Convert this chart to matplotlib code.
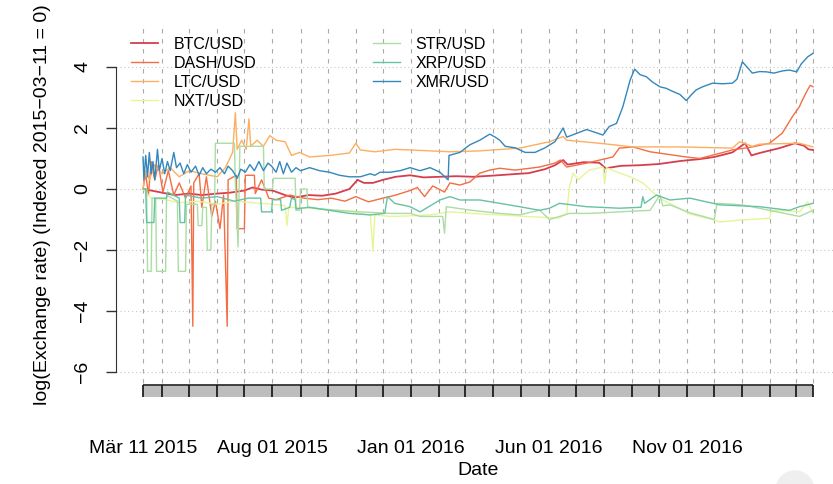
import pandas as pd
import matplotlib.pyplot as plt
import matplotlib.dates as mdates
from matplotlib.patches import Circle

plt.rcParams['font.family'] = ['Liberation Sans', 'DejaVu Sans']

# currency pairs and their colours (Spectral palette)
pairs = ['BTC/USD', 'DASH/USD', 'LTC/USD', 'NXT/USD', 'STR/USD', 'XRP/USD', 'XMR/USD']
colors = ['#D53E4F', '#F46D43', '#FDAE61', '#E6F598', '#ABDDA4', '#66C2A5', '#3288BD']

# log exchange rates, indexed to 2015-03-11
btc_dates = ['2015-03-11', '2015-03-20', '2015-04-01', '2015-04-15', '2015-05-01', '2015-05-15', '2015-06-01',
             '2015-06-15', '2015-07-01', '2015-07-10', '2015-07-20', '2015-08-01', '2015-08-15', '2015-08-25',
             '2015-09-10', '2015-09-25', '2015-10-10', '2015-10-25', '2015-11-03', '2015-11-10', '2015-11-20',
             '2015-12-01', '2015-12-15', '2015-12-31', '2016-01-15', '2016-02-01', '2016-02-20', '2016-03-10',
             '2016-04-01', '2016-04-20', '2016-05-10', '2016-05-28', '2016-06-08', '2016-06-17', '2016-06-22',
             '2016-07-10', '2016-07-27', '2016-08-03', '2016-08-20', '2016-09-10', '2016-10-01', '2016-10-25',
             '2016-11-15', '2016-12-01', '2016-12-21', '2017-01-04', '2017-01-11', '2017-01-20', '2017-02-11',
             '2017-02-28', '2017-03-10', '2017-03-15', '2017-03-20']
btc_values = [0.0, -0.05, -0.12, -0.2, -0.15, -0.2, -0.15,
              -0.12, -0.05, 0.05, -0.02, -0.05, -0.2, -0.28,
              -0.2, -0.22, -0.15, 0.0, 0.3, 0.2, 0.2,
              0.3, 0.4, 0.45, 0.38, 0.4, 0.42, 0.4,
              0.44, 0.48, 0.52, 0.65, 0.78, 0.95, 0.8,
              0.88, 0.86, 0.68, 0.76, 0.78, 0.82, 0.92,
              0.98, 1.05, 1.2, 1.5, 1.1, 1.18, 1.34,
              1.5, 1.42, 1.3, 1.28]

dash_dates = ['2015-03-11', '2015-03-14', '2015-03-17', '2015-03-20', '2015-03-24', '2015-03-28', '2015-04-02',
              '2015-04-08', '2015-04-14', '2015-04-20', '2015-04-27', '2015-05-03', '2015-05-05', '2015-05-06',
              '2015-05-12', '2015-05-15', '2015-05-20', '2015-05-26', '2015-05-30', '2015-06-04', '2015-06-08',
              '2015-06-12', '2015-06-13', '2015-06-22', '2015-06-23', '2015-07-01', '2015-07-02', '2015-07-12',
              '2015-07-13', '2015-07-20', '2015-07-28', '2015-08-05', '2015-08-20', '2015-09-05', '2015-09-20',
              '2015-10-05', '2015-10-20', '2015-11-01', '2015-11-15', '2015-12-01', '2015-12-15', '2015-12-31',
              '2016-01-08', '2016-01-16', '2016-01-25', '2016-02-07', '2016-02-13', '2016-02-24', '2016-03-06',
              '2016-03-17', '2016-03-28', '2016-04-08', '2016-04-25', '2016-05-22', '2016-06-08', '2016-06-14',
              '2016-06-21', '2016-07-13', '2016-08-11', '2016-08-18', '2016-09-02', '2016-09-21', '2016-10-31',
              '2016-11-15', '2016-12-21', '2017-01-12', '2017-01-31', '2017-02-14', '2017-02-25', '2017-03-05',
              '2017-03-08', '2017-03-14', '2017-03-17', '2017-03-20']
dash_values = [0.0, 0.5, -0.2, 0.9, 0.3, 0.8, -0.1,
               0.6, -0.2, 0.2, -0.3, 0.1, -4.5, 0.2,
               0.5, -0.6, 0.4, -0.9, -0.4, -1.3, -0.2,
               -4.5, 0.3, 0.45, -1.3, -1.3, 0.45, 0.45,
               -0.15, 0.3, -0.3, -0.35, -0.2, -0.3, -0.35,
               -0.3, -0.4, -0.25, -0.42, -0.3, -0.2, -0.05,
               0.05, -0.25, 0.1, -0.1, 0.2, 0.13, 0.23,
               0.52, 0.62, 0.68, 0.62, 0.72, 0.85, 0.95,
               0.72, 0.85, 1.05, 1.34, 1.38, 1.22, 1.05,
               1.0, 1.28, 1.38, 1.5, 1.83, 2.36, 2.7,
               2.9, 3.25, 3.4, 3.35]

ltc_dates = ['2015-03-11', '2015-03-14', '2015-03-18', '2015-03-24', '2015-04-01', '2015-04-10', '2015-04-20',
             '2015-05-01', '2015-05-15', '2015-06-01', '2015-06-10', '2015-06-18', '2015-06-21', '2015-06-23',
             '2015-06-28', '2015-07-03', '2015-07-06', '2015-07-08', '2015-07-15', '2015-07-22', '2015-07-29',
             '2015-08-05', '2015-08-15', '2015-08-22', '2015-08-31', '2015-09-11', '2015-10-03', '2015-10-25',
             '2015-11-01', '2015-11-06', '2015-11-22', '2015-12-14', '2015-12-31', '2016-02-13', '2016-03-17',
             '2016-04-30', '2016-06-02', '2016-06-17', '2016-06-21', '2016-07-27', '2016-09-02', '2016-10-24',
             '2016-12-21', '2016-12-29', '2017-01-12', '2017-01-20', '2017-03-05', '2017-03-20']
ltc_values = [0.0, 0.6, 0.3, 0.8, 0.5, 0.7, 0.4,
              0.6, 0.5, 0.4, 0.7, 1.2, 2.5, 1.3,
              1.6, 1.3, 2.3, 1.4, 1.6, 1.4, 1.75,
              1.6, 1.55, 1.1, 1.2, 1.05, 1.1, 1.18,
              1.5, 1.28, 1.22, 1.3, 1.28, 1.22, 1.25,
              1.34, 1.55, 1.72, 1.6, 1.5, 1.38, 1.38,
              1.34, 1.55, 1.4, 1.47, 1.5, 1.38]

nxt_dates = ['2015-03-11', '2015-03-20', '2015-04-05', '2015-04-20', '2015-05-10', '2015-06-01', '2015-06-20',
             '2015-07-10', '2015-08-01', '2015-08-15', '2015-08-17', '2015-08-19', '2015-09-10', '2015-10-03',
             '2015-10-25', '2015-11-17', '2015-11-20', '2015-11-22', '2015-12-09', '2015-12-31', '2016-01-22',
             '2016-02-13', '2016-03-06', '2016-04-08', '2016-05-06', '2016-06-13', '2016-06-21', '2016-06-24',
             '2016-06-28', '2016-07-04', '2016-07-09', '2016-07-16', '2016-07-31', '2016-08-02', '2016-08-04',
             '2016-08-15', '2016-08-30', '2016-09-13', '2016-09-24', '2016-10-05', '2016-10-20', '2016-11-04',
             '2016-11-29', '2016-12-07', '2016-12-29', '2017-01-31', '2017-02-02', '2017-02-22', '2017-03-05',
             '2017-03-14', '2017-03-20']
nxt_values = [0.0, -0.3, -0.35, -0.45, -0.4, -0.5, -0.4,
              -0.45, -0.5, -0.55, -1.2, -0.6, -0.62, -0.7,
              -0.75, -0.85, -2.05, -0.85, -0.9, -0.88, -0.85,
              -0.75, -0.8, -0.85, -0.9, -0.95, -0.8, 0.07,
              0.52, 0.3, 0.45, 0.62, 0.72, 0.2, 0.7,
              0.56, 0.4, 0.2, -0.1, -0.36, -0.58, -0.82,
              -1.0, -1.08, -1.02, -0.96, -0.7, -0.72, -0.75,
              -0.42, -0.8]

str_dates = ['2015-03-11', '2015-03-15', '2015-03-16', '2015-03-20', '2015-03-21', '2015-03-25', '2015-03-26',
             '2015-04-05', '2015-04-06', '2015-04-18', '2015-04-19', '2015-04-27', '2015-04-28', '2015-05-10',
             '2015-05-11', '2015-05-15', '2015-05-16', '2015-05-20', '2015-05-21', '2015-05-25', '2015-05-26',
             '2015-05-29', '2015-05-30', '2015-06-20', '2015-06-21', '2015-06-24', '2015-06-26', '2015-07-22',
             '2015-07-23', '2015-08-01', '2015-08-02', '2015-08-26', '2015-08-27', '2015-08-31', '2015-09-01',
             '2015-09-08', '2015-09-09', '2015-09-22', '2015-10-14', '2015-11-06', '2015-12-09', '2015-12-31',
             '2016-01-11', '2016-02-05', '2016-02-07', '2016-02-09', '2016-03-06', '2016-04-08', '2016-04-30',
             '2016-05-22', '2016-06-02', '2016-06-24', '2016-07-16', '2016-08-18', '2016-09-21', '2016-10-02',
             '2016-10-05', '2016-10-13', '2016-11-04', '2016-12-01', '2016-12-04', '2017-01-01', '2017-01-31',
             '2017-03-05', '2017-03-20']
str_values = [0.0, 0.0, -2.7, -2.7, -0.3, -0.3, -2.7,
              -2.7, -0.2, -0.4, -2.7, -2.7, -0.5, -0.5,
              -1.2, -1.2, -0.6, -0.6, -2.0, -2.0, -0.5,
              -0.5, 1.5, 1.5, 0.2, -1.9, 1.4, 1.4,
              0.0, 0.0, 0.35, 0.35, -0.7, -0.7, 0.0,
              0.0, -0.6, -0.65, -0.7, -0.75, -0.8, -0.8,
              -0.9, -0.9, -1.45, -0.58, -0.69, -0.8, -0.85,
              -0.69, -1.0, -0.8, -0.8, -0.75, -0.7, -0.2,
              -0.55, -0.52, -0.78, -1.0, -0.47, -0.52, -0.7,
              -0.9, -0.7]

xrp_dates = ['2015-03-11', '2015-03-14', '2015-03-15', '2015-03-23', '2015-03-24', '2015-04-06', '2015-04-07',
             '2015-04-20', '2015-04-21', '2015-04-26', '2015-04-27', '2015-05-15', '2015-06-01', '2015-06-20',
             '2015-07-05', '2015-07-19', '2015-07-20', '2015-07-31', '2015-08-01', '2015-08-10', '2015-08-11',
             '2015-08-20', '2015-08-22', '2015-08-26', '2015-08-27', '2015-09-11', '2015-10-03', '2015-10-25',
             '2015-11-17', '2015-12-03', '2015-12-06', '2015-12-14', '2015-12-31', '2016-01-11', '2016-02-02',
             '2016-02-13', '2016-02-24', '2016-03-17', '2016-04-08', '2016-04-30', '2016-05-22', '2016-06-02',
             '2016-06-13', '2016-07-13', '2016-08-18', '2016-09-11', '2016-09-13', '2016-09-15', '2016-09-28',
             '2016-10-13', '2016-11-04', '2016-12-07', '2017-01-20', '2017-02-22', '2017-03-05', '2017-03-20']
xrp_values = [0.0, 0.0, -1.1, -1.1, -0.3, -0.3, -0.1,
              -0.3, -1.1, -1.1, -0.2, -0.3, -0.25, -0.4,
              -0.3, -0.3, -0.75, -0.75, -0.35, -0.35, -0.7,
              -0.6, -0.3, -0.35, -0.65, -0.6, -0.7, -0.8,
              -0.85, -0.8, -0.25, -0.47, -0.58, -0.75, -0.36,
              -0.25, -0.36, -0.36, -0.47, -0.58, -0.7, -0.63,
              -0.47, -0.58, -0.63, -0.6, -0.25, -0.47, -0.2,
              -0.36, -0.3, -0.52, -0.58, -0.7, -0.58, -0.47]

xmr_dates = ['2015-03-11', '2015-03-12', '2015-03-14', '2015-03-16', '2015-03-18', '2015-03-20', '2015-03-22',
             '2015-03-24', '2015-03-27', '2015-03-29', '2015-04-01', '2015-04-04', '2015-04-07', '2015-04-10',
             '2015-04-14', '2015-04-17', '2015-04-21', '2015-04-25', '2015-04-29', '2015-05-03', '2015-05-08',
             '2015-05-12', '2015-05-16', '2015-05-20', '2015-05-25', '2015-05-30', '2015-06-04', '2015-06-09',
             '2015-06-13', '2015-06-18', '2015-06-23', '2015-06-27', '2015-07-02', '2015-07-07', '2015-07-12',
             '2015-07-17', '2015-07-22', '2015-07-27', '2015-07-31', '2015-08-05', '2015-08-09', '2015-08-13',
             '2015-08-17', '2015-08-22', '2015-08-27', '2015-09-01', '2015-09-11', '2015-09-22', '2015-10-03',
             '2015-10-14', '2015-10-25', '2015-11-06', '2015-11-17', '2015-11-22', '2015-11-28', '2015-12-09',
             '2015-12-20', '2015-12-31', '2016-01-11', '2016-01-22', '2016-02-02', '2016-02-11', '2016-02-12',
             '2016-02-24', '2016-03-06', '2016-03-17', '2016-03-28', '2016-04-03', '2016-04-08', '2016-04-14',
             '2016-04-25', '2016-05-06', '2016-05-17', '2016-05-28', '2016-06-08', '2016-06-17', '2016-06-21',
             '2016-07-13', '2016-07-31', '2016-08-07', '2016-08-15', '2016-08-22', '2016-08-30', '2016-09-04',
             '2016-09-10', '2016-09-17', '2016-09-24', '2016-10-02', '2016-10-09', '2016-10-16', '2016-10-24',
             '2016-10-31', '2016-11-06', '2016-11-11', '2016-11-18', '2016-11-29', '2016-12-10', '2016-12-21',
             '2016-12-26', '2017-01-01', '2017-01-12', '2017-01-20', '2017-01-28', '2017-02-05', '2017-02-14',
             '2017-02-22', '2017-03-02', '2017-03-07', '2017-03-14', '2017-03-20']
xmr_values = [1.05, 0.3, 1.1, 0.4, 1.2, 0.5, 0.9,
              0.3, 1.3, 0.6, 1.0, 0.5, 0.9, 0.6,
              1.2, 0.7, 0.85, 0.5, 0.8, 0.55, 0.75,
              0.45, 0.7, 0.5, 0.65, 0.55, 0.7, 0.5,
              0.75, 0.6, 0.35, 0.65, 0.55, 0.8, 0.6,
              0.9, 0.6, 0.85, 0.75, 0.55, 0.9, 0.5,
              0.85, 0.55, 0.7, 0.6, 0.7, 0.6, 0.55,
              0.45, 0.4, 0.4, 0.5, 0.45, 0.55, 0.55,
              0.6, 0.7, 0.6, 0.7, 0.55, 0.3, 1.1,
              1.2, 1.45, 1.6, 1.8, 1.7, 1.6, 1.4,
              1.35, 1.2, 1.2, 1.35, 1.55, 2.0, 1.7,
              1.95, 1.77, 2.05, 2.15, 2.7, 3.57, 3.93,
              3.75, 3.68, 3.5, 3.35, 3.3, 3.2, 3.1,
              2.9, 3.1, 3.25, 3.35, 3.47, 3.45, 3.47,
              3.6, 4.17, 3.8, 3.85, 3.84, 3.8, 3.87,
              3.9, 3.84, 4.1, 4.33, 4.45]

series = [(btc_dates, btc_values), (dash_dates, dash_values), (ltc_dates, ltc_values),
          (nxt_dates, nxt_values), (str_dates, str_values), (xrp_dates, xrp_values),
          (xmr_dates, xmr_values)]

start = pd.Timestamp('2015-03-11')
end = pd.Timestamp('2017-03-20')
y_ticks = [-6, -4, -2, 0, 2, 4]
x_label_dates = ['2015-03-11', '2015-08-01', '2016-01-01', '2016-06-01', '2016-11-01']
x_labels = ['Mär 11 2015', 'Aug 01 2015', 'Jan 01 2016', 'Jun 01 2016', 'Nov 01 2016']

fig = plt.figure(figsize=(8.33, 4.84), dpi=100)
ax = fig.add_axes([116 / 833, 1 - 400 / 484, 717 / 833, 375 / 484])

# x range: data range padded like R does (4% each side), cut at the right edge
x0 = mdates.date2num(start)
x1 = mdates.date2num(end)
px_per_day = 670 / (x1 - x0)
ax.set_xlim(x0 - 27 / px_per_day, x0 + 690 / px_per_day)
ax.set_ylim(-6.918, 5.377)

# month boundaries for the grid and the time bar
edges = [start] + list(pd.date_range('2015-04-01', '2017-03-01', freq='MS')) + [end]
edges = mdates.date2num(edges)

ax.hlines(y_ticks, *ax.get_xlim(), colors='#c8c8c8', linestyles=(0, (1, 2.5)), lw=0.8, zorder=0)
ax.vlines(edges, -6.36, 5.377, colors='#aaaaaa', linestyles=(0, (4, 5)), lw=0.8, zorder=0)

for (d, v), name, c in zip(series, pairs, colors):
    lw = 1.3 if name == 'BTC/USD' else 1.0
    ax.plot(pd.to_datetime(d), v, color=c, lw=lw, label=name)

# grey time bar under the plot
ax.broken_barh([(a, b - a) for a, b in zip(edges[:-1], edges[1:])], (-6.82, 0.394),
               facecolors='#bdbdbd', edgecolors='none', zorder=1)
ax.hlines(-6.426, edges[0], edges[-1], colors='#333333', lw=1.3, zorder=2)
ax.vlines(edges, -6.82, -6.426, colors='#111111', lw=1.2, zorder=2)

# axes styling (R base graphics look)
for s in ['top', 'right', 'bottom']:
    ax.spines[s].set_visible(False)
ax.spines['left'].set_bounds(-6, 4)
ax.spines['left'].set_color('#333333')
ax.set_yticks(y_ticks)
ax.tick_params(axis='y', length=7, width=1, color='#333333', labelsize=14, labelrotation=90, pad=11)
for lab in ax.get_yticklabels():
    lab.set_verticalalignment('center')

ax.set_xticks(mdates.date2num(pd.to_datetime(x_label_dates)))
ax.set_xticklabels(x_labels)
ax.tick_params(axis='x', length=0, labelsize=14, pad=28.5)

ax.set_xlabel('Date', fontsize=14)
ax.xaxis.set_label_coords(0.505, -0.165)
ax.set_ylabel('log(Exchange rate) (Indexed 2015\u221203\u221211 = 0)', fontsize=14)
ax.yaxis.set_label_coords(-0.0907, 0.52)

ax.legend(ncol=2, loc='upper left', bbox_to_anchor=(131 / 833, 1 - 37 / 484), bbox_transform=fig.transFigure,
          frameon=False, fontsize=11.5, handlelength=1.69, handletextpad=1.0, columnspacing=7.25,
          labelspacing=0.24, borderpad=0, borderaxespad=0)

# faint round overlay in the lower right corner of the screenshot
fig.patches.append(Circle((7.95, -0.06), 0.19, transform=fig.dpi_scale_trans, color='#efefef', zorder=0))

plt.savefig('out.png', dpi=100)
